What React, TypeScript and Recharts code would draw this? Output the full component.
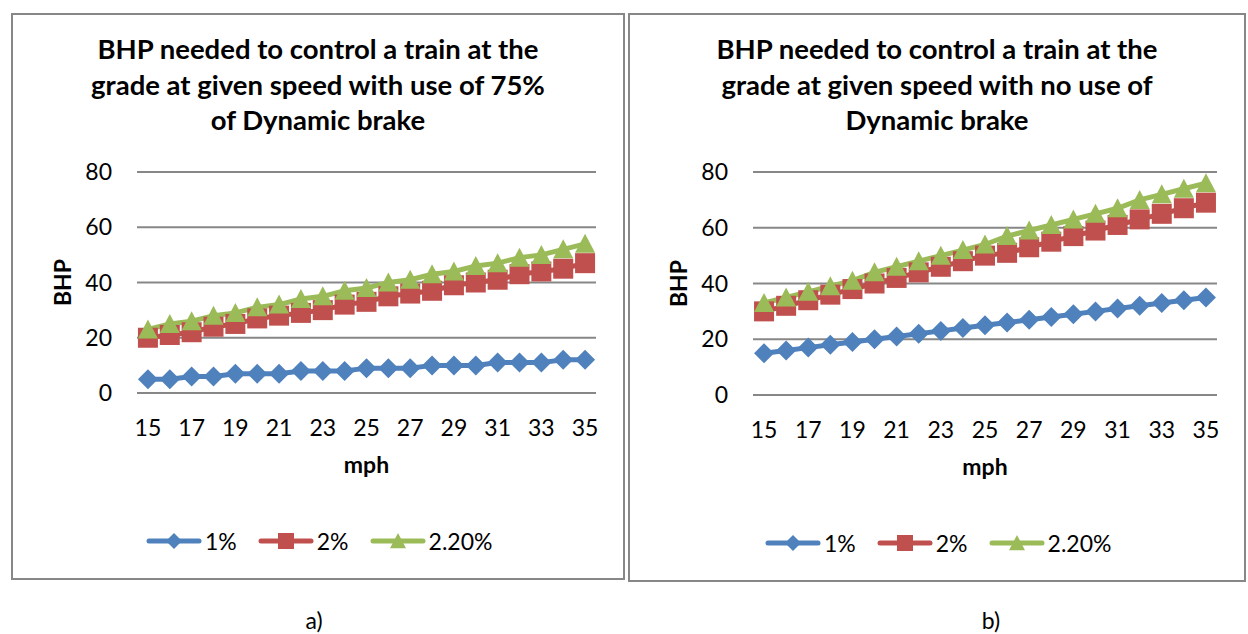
import React from "react";
import { LineChart, Line, XAxis, YAxis, CartesianGrid } from "recharts";

const mph = [15, 16, 17, 18, 19, 20, 21, 22, 23, 24, 25, 26, 27, 28, 29, 30, 31, 32, 33, 34, 35];
const yTicks = [0, 20, 40, 60, 80];

// a) with use of 75% of dynamic brake
const brake75Grade1 = [5, 5, 6, 6, 7, 7, 7, 8, 8, 8, 9, 9, 9, 10, 10, 10, 11, 11, 11, 12, 12];
const brake75Grade2 = [20, 21, 22, 24, 25, 27, 28, 29, 30, 32, 33, 35, 36, 37, 39, 40, 41, 43, 44, 45, 47];
const brake75Grade22 = [23, 25, 26, 28, 29, 31, 32, 34, 35, 37, 38, 40, 41, 43, 44, 46, 47, 49, 50, 52, 54];

// b) with no use of dynamic brake
const noBrakeGrade1 = [15, 16, 17, 18, 19, 20, 21, 22, 23, 24, 25, 26, 27, 28, 29, 30, 31, 32, 33, 34, 35];
const noBrakeGrade2 = [30, 32, 34, 36, 38, 40, 42, 44, 46, 48, 50, 51, 53, 55, 57, 59, 61, 63, 65, 67, 69];
const noBrakeGrade22 = [33, 35, 37, 39, 41, 44, 46, 48, 50, 52, 54, 57, 59, 61, 63, 65, 67, 70, 72, 74, 76];

const seriesNames = ["1%", "2%", "2.20%"];
const seriesColors = ["#4F81BD", "#C0504D", "#9BBB59"];
const markers = ["diamond", "square", "triangle"];

const FONT = "Lato, 'Open Sans', sans-serif";
const GRID = "#878787";

function Marker({ kind, cx, cy, r, fill }: { kind: string; cx: number; cy: number; r: number; fill: string }) {
  if (kind === "diamond") {
    return <polygon points={`${cx},${cy - r} ${cx + r},${cy} ${cx},${cy + r} ${cx - r},${cy}`} fill={fill} />;
  }
  if (kind === "square") {
    return <rect x={cx - r} y={cy - r} width={r * 2} height={r * 2} fill={fill} />;
  }
  return <polygon points={`${cx},${cy - r} ${cx + r},${cy + r * 0.9} ${cx - r},${cy + r * 0.9}`} fill={fill} />;
}

function makeDot(kind: string, fill: string) {
  return (props: any) => {
    if (props.cx == null || props.cy == null) return <g key={`e-${props.index}`} />;
    return (
      <g key={`${kind}-${props.index}`}>
        <Marker kind={kind} cx={props.cx} cy={props.cy} r={10} fill={fill} />
      </g>
    );
  };
}

function Legend({ left, top }: { left: number; top: number }) {
  return (
    <div style={{ position: "absolute", left, top, display: "flex", alignItems: "center", fontFamily: FONT, fontSize: 23, color: "#000" }}>
      {seriesNames.map((name, i) => (
        <div key={name} style={{ display: "flex", alignItems: "center", marginRight: i < 2 ? 21 : 0 }}>
          <svg width={56} height={20}>
            <line x1={3} y1={10} x2={53} y2={10} stroke={seriesColors[i]} strokeWidth={5} strokeLinecap="round" />
            <Marker kind={markers[i]} cx={28} cy={10} r={8} fill={seriesColors[i]} />
          </svg>
          <span style={{ marginLeft: 3, lineHeight: "24px" }}>{name}</span>
        </div>
      ))}
    </div>
  );
}

interface PanelProps {
  left: number;
  top: number;
  width: number;
  height: number;
  title: string[];
  values: number[][];
  plotLeft: number;
  plotRight: number;
  plotBottom: number;
  legendLeft: number;
  legendTop: number;
}

function Panel({ left, top, width, height, title, values, plotLeft, plotRight, plotBottom, legendLeft, legendTop }: PanelProps) {
  const chartTop = 140;
  const plotTop = 172;
  const axisW = 72;
  const axisH = 90;
  const chartH = plotBottom - chartTop + axisH;
  const band = (plotRight - plotLeft) / mph.length;
  const data = mph.map((m, i) => ({ mph: m, s0: values[0][i], s1: values[1][i], s2: values[2][i] }));

  return (
    <>
      <div
        style={{
          position: "absolute",
          left,
          top,
          width,
          height,
          border: `2px solid ${GRID}`,
          boxSizing: "border-box",
        }}
      />
      <div
        style={{
          position: "absolute",
          left,
          top: 31,
          width,
          textAlign: "center",
          fontFamily: FONT,
          fontWeight: 700,
          fontSize: 27.5,
          lineHeight: "35.5px",
          color: "#000",
        }}
      >
        {title.map((t) => (
          <div key={t}>{t}</div>
        ))}
      </div>
      <div style={{ position: "absolute", left, top: chartTop }}>
        <LineChart
          width={width}
          height={chartH}
          data={data}
          margin={{ top: plotTop - chartTop, right: left + width - plotRight, bottom: 0, left: plotLeft - left - axisW }}
        >
          <CartesianGrid horizontal vertical={false} stroke={GRID} strokeWidth={2} />
          <XAxis
            dataKey="mph"
            interval={1}
            height={axisH}
            padding={{ left: band / 2, right: band / 2 }}
            tickLine={false}
            tickSize={0}
            tickMargin={27}
            axisLine={{ stroke: GRID, strokeWidth: 2 }}
            tick={{ fontSize: 23, fill: "#000", fontFamily: FONT }}
            label={{
              value: "mph",
              content: (p: any) => {
                const vb = p.viewBox;
                return (
                  <text x={vb.x + vb.width / 2} y={vb.y + 80} textAnchor="middle" fontFamily={FONT} fontWeight={700} fontSize={23} fill="#000">
                    mph
                  </text>
                );
              },
            }}
          />
          <YAxis
            domain={[0, 80]}
            ticks={yTicks}
            width={axisW}
            axisLine={false}
            tickLine={false}
            tickSize={0}
            tickMargin={25}
            tick={{ fontSize: 23, fill: "#000", fontFamily: FONT }}
            label={{
              value: "BHP",
              content: (p: any) => {
                const vb = p.viewBox;
                const x = vb.x + 6;
                const y = vb.y + vb.height / 2;
                return (
                  <text x={x} y={y} transform={`rotate(-90 ${x} ${y})`} textAnchor="middle" fontFamily={FONT} fontWeight={700} fontSize={23} fill="#000">
                    BHP
                  </text>
                );
              },
            }}
          />
          {[0, 1, 2].map((i) => (
            <Line
              key={i}
              dataKey={`s${i}`}
              name={seriesNames[i]}
              stroke={seriesColors[i]}
              strokeWidth={5}
              dot={makeDot(markers[i], seriesColors[i])}
              activeDot={false}
              isAnimationActive={false}
            />
          ))}
        </LineChart>
      </div>
      <Legend left={legendLeft} top={legendTop} />
    </>
  );
}

export default function App() {
  return (
    <div style={{ position: "absolute", left: 0, top: 0, width: 1248, height: 634, background: "#fff", overflow: "hidden" }}>
      <Panel
        left={11}
        top={13}
        width={614}
        height={567}
        title={["BHP needed to control a train at the", "grade at given speed with use of 75%", "of Dynamic brake"]}
        values={[brake75Grade1, brake75Grade2, brake75Grade22]}
        plotLeft={137}
        plotRight={596}
        plotBottom={393}
        legendLeft={146}
        legendTop={529}
      />
      <Panel
        left={628}
        top={13}
        width={618}
        height={569}
        title={["BHP needed to control a train at the", "grade at given speed with no use of", "Dynamic brake"]}
        values={[noBrakeGrade1, noBrakeGrade2, noBrakeGrade22]}
        plotLeft={753}
        plotRight={1217}
        plotBottom={395}
        legendLeft={765}
        legendTop={531}
      />
      <div style={{ position: "absolute", left: 264, top: 606, width: 100, textAlign: "center", fontFamily: FONT, fontSize: 23 }}>a)</div>
      <div style={{ position: "absolute", left: 941, top: 606, width: 100, textAlign: "center", fontFamily: FONT, fontSize: 23 }}>b)</div>
    </div>
  );
}
